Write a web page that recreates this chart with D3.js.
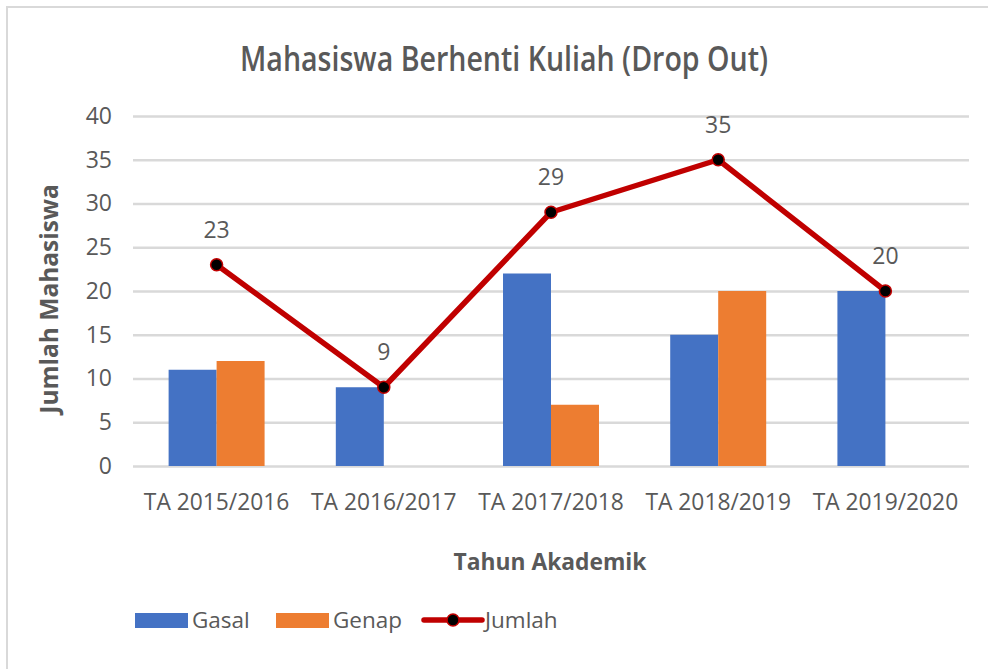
<!DOCTYPE html>
<html>
<head>
<meta charset="utf-8">
<script src="https://cdn.jsdelivr.net/npm/d3@7"></script>
<style>
  html, body { margin: 0; padding: 0; background: #ffffff; }
  svg { display: block; }
</style>
</head>
<body>
<script>
const categories = ["TA 2015/2016", "TA 2016/2017", "TA 2017/2018", "TA 2018/2019", "TA 2019/2020"];
const gasal = [11, 9, 22, 15, 20];
const genap = [12, 0, 7, 20, 0];
const jumlah = [23, 9, 29, 35, 20];
const yTicks = [0, 5, 10, 15, 20, 25, 30, 35, 40];
const seriesNames = ["Gasal", "Genap", "Jumlah"];
const titleText = "Mahasiswa Berhenti Kuliah (Drop Out)";
const xTitle = "Tahun Akademik";
const yTitle = "Jumlah Mahasiswa";

(function () {
const W = 988, H = 669;
const textColor = "#595959";
const gridColor = "#d9d9d9";
const blue = "#4472C4", orange = "#ED7D31", red = "#C00000";
const font = "'Open Sans', 'Noto Sans', sans-serif";

const svg = d3.select("body").append("svg").attr("width", W).attr("height", H);
svg.append("rect").attr("width", W).attr("height", H).attr("fill", "#fff");
// chart frame
svg.append("rect").attr("x", 7).attr("y", 7).attr("width", 1100).attr("height", 800)
  .attr("fill", "none").attr("stroke", gridColor).attr("stroke-width", 2);

const pLeft = 133, pRight = 969, pTop = 116, pBottom = 466;
const x = d3.scaleBand().domain(categories).range([pLeft, pRight]).paddingInner(0.426).paddingOuter(0.213);
const xs = d3.scaleBand().domain(["Gasal", "Genap"]).range([0, x.bandwidth()]);
const y = d3.scaleLinear().domain([0, 40]).range([pBottom, pTop]);

// Y axis + gridlines
const yAxis = svg.append("g").attr("transform", `translate(${pLeft},0)`)
  .call(d3.axisLeft(y).tickValues(yTicks).tickSizeInner(-(pRight - pLeft)).tickSizeOuter(0).tickPadding(21));
yAxis.select(".domain").remove();
yAxis.selectAll(".tick line").attr("stroke", gridColor).attr("stroke-width", 2.5);
yAxis.selectAll(".tick text").attr("fill", textColor).style("font-family", font).style("font-size", "23px");

// X axis
const xAxis = svg.append("g").attr("transform", `translate(0,${pBottom})`)
  .call(d3.axisBottom(x).tickSize(0).tickPadding(28));
xAxis.select(".domain").remove();
xAxis.selectAll(".tick text").attr("fill", textColor).style("font-family", font).style("font-size", "22.8px");

// Bars
const barData = [];
categories.forEach((c, i) => {
  barData.push({ cat: c, key: "Gasal", v: gasal[i], color: blue });
  barData.push({ cat: c, key: "Genap", v: genap[i], color: orange });
});
svg.append("g").selectAll("rect").data(barData.filter(d => d.v > 0)).join("rect")
  .attr("x", d => x(d.cat) + xs(d.key))
  .attr("width", xs.bandwidth())
  .attr("y", d => y(d.v))
  .attr("height", d => y(0) - y(d.v))
  .attr("fill", d => d.color);

// Line
const lineData = categories.map((c, i) => ({ cat: c, v: jumlah[i] }));
const cx = d => x(d.cat) + x.bandwidth() / 2;
svg.append("path").datum(lineData)
  .attr("d", d3.line().x(cx).y(d => y(d.v)))
  .attr("fill", "none").attr("stroke", red).attr("stroke-width", 5.5).attr("stroke-linejoin", "round");
svg.append("g").selectAll("circle").data(lineData).join("circle")
  .attr("cx", cx).attr("cy", d => y(d.v)).attr("r", 6)
  .attr("fill", "#000").attr("stroke", red).attr("stroke-width", 1.5);
svg.append("g").selectAll("text").data(lineData).join("text")
  .attr("x", cx).attr("y", d => y(d.v) - 27)
  .attr("text-anchor", "middle").attr("fill", textColor)
  .style("font-family", font).style("font-size", "23px")
  .text(d => d.v);

// Title
svg.append("text").attr("x", 504).attr("y", 71).attr("text-anchor", "middle")
  .attr("fill", textColor)
  .style("font-family", font).style("font-size", "34px").style("font-weight", "600")
  .attr("textLength", 528).attr("lengthAdjust", "spacingAndGlyphs")
  .text(titleText);

// Axis titles
svg.append("text").attr("x", 550).attr("y", 570).attr("text-anchor", "middle")
  .attr("fill", textColor).style("font-family", font).style("font-size", "22.8px").style("font-weight", "bold")
  .text(xTitle);
svg.append("text").attr("transform", "translate(58,299) rotate(-90)").attr("text-anchor", "middle")
  .attr("fill", textColor).style("font-family", font).style("font-size", "24.5px").style("font-weight", "bold")
  .text(yTitle);

// Legend
const lg = svg.append("g");
const legendItems = [
  { name: seriesNames[0], type: "bar", color: blue, x: 135 },
  { name: seriesNames[1], type: "bar", color: orange, x: 276 },
  { name: seriesNames[2], type: "line", color: red, x: 424 }
];
legendItems.forEach(it => {
  if (it.type === "bar") {
    lg.append("rect").attr("x", it.x).attr("y", 613).attr("width", 53).attr("height", 15).attr("fill", it.color);
    lg.append("text").attr("x", it.x + 57).attr("y", 628).attr("fill", textColor)
      .style("font-family", font).style("font-size", "22.5px").text(it.name);
  } else {
    lg.append("line").attr("x1", it.x).attr("x2", it.x + 58).attr("y1", 620).attr("y2", 620)
      .attr("stroke", it.color).attr("stroke-width", 5.5).attr("stroke-linecap", "round");
    lg.append("circle").attr("cx", it.x + 29).attr("cy", 620).attr("r", 6)
      .attr("fill", "#000").attr("stroke", red).attr("stroke-width", 1.5);
    lg.append("text").attr("x", it.x + 61).attr("y", 628).attr("fill", textColor)
      .style("font-family", font).style("font-size", "22.5px").text(it.name);
  }
});
})();
</script>
</body>
</html>
